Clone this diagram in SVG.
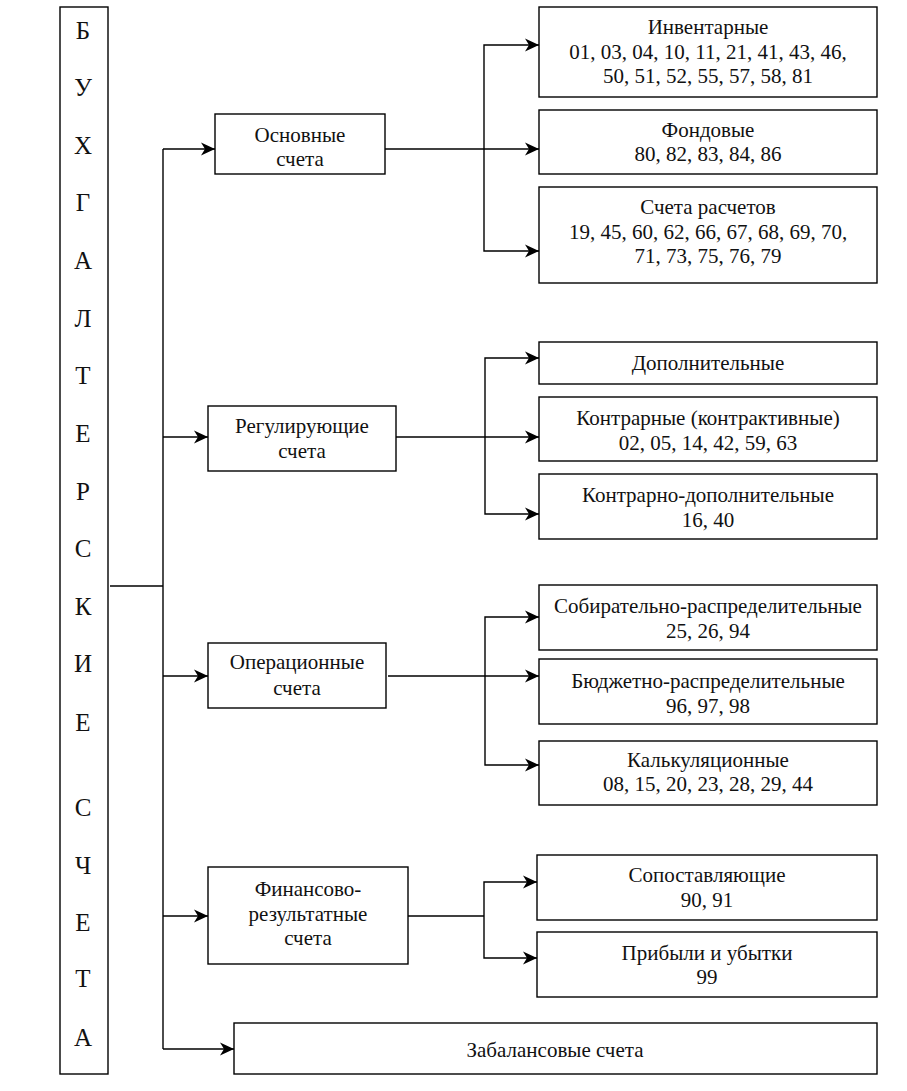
<svg xmlns="http://www.w3.org/2000/svg" width="907" height="1091" viewBox="0 0 907 1091">
<style>
.bx{fill:#fff;stroke:#000;stroke-width:1.4}
.t{font-family:"Liberation Serif","Times New Roman",serif;font-size:21px;text-anchor:middle;fill:#111}
.v{font-family:"Liberation Serif","Times New Roman",serif;font-size:25px;text-anchor:middle;fill:#111}
.c{fill:none;stroke:#000;stroke-width:1.4}
.a{fill:none;stroke:#000;stroke-width:1.4;marker-end:url(#ah)}
</style>
<defs>
<marker id="ah" markerUnits="userSpaceOnUse" markerWidth="15" markerHeight="14" refX="14" refY="7" orient="auto">
<path d="M0,0.5 L14,7 L0,13.5 L4,7 Z" fill="#000"/>
</marker>
</defs>
<rect width="907" height="1091" fill="#fff"/>
<g id="connectors">
<path class="c" d="M110,586 H163"/>
<path class="c" d="M163,149 V1049"/>
<path class="a" d="M163,149 H215"/>
<path class="a" d="M163,437 H208"/>
<path class="a" d="M163,676 H208"/>
<path class="a" d="M163,916 H208"/>
<path class="a" d="M163,1049 H234"/>
<path class="a" d="M384,149 H539"/>
<path class="a" d="M484,149 V45 H539"/>
<path class="a" d="M484,149 V251 H539"/>
<path class="a" d="M396,437 H539"/>
<path class="a" d="M485,437 V358 H539"/>
<path class="a" d="M485,437 V514 H539"/>
<path class="a" d="M388,676 H539"/>
<path class="a" d="M485,676 V617 H539"/>
<path class="a" d="M485,676 V765 H539"/>
<path class="c" d="M408,916 H484"/>
<path class="a" d="M484,916 V882 H537"/>
<path class="a" d="M484,916 V958 H537"/>
</g>
<g id="root">
<rect class="bx" x="60" y="7" width="48" height="1067"/>
<text class="v" x="83" y="39">Б</text>
<text class="v" x="83" y="96">У</text>
<text class="v" x="83" y="154">Х</text>
<text class="v" x="83" y="211">Г</text>
<text class="v" x="83" y="269">А</text>
<text class="v" x="83" y="327">Л</text>
<text class="v" x="83" y="384">Т</text>
<text class="v" x="83" y="442">Е</text>
<text class="v" x="83" y="500">Р</text>
<text class="v" x="83" y="557">С</text>
<text class="v" x="83" y="615">К</text>
<text class="v" x="83" y="672">И</text>
<text class="v" x="83" y="731">Е</text>
<text class="v" x="83" y="816">С</text>
<text class="v" x="83" y="874">Ч</text>
<text class="v" x="83" y="931">Е</text>
<text class="v" x="83" y="987">Т</text>
<text class="v" x="83" y="1046">А</text>
</g>
<g id="osnovnye">
<rect class="bx" x="215" y="114" width="170" height="60"/>
<text class="t" x="300" y="142">Основные</text>
<text class="t" x="300" y="166">счета</text>
</g>
<g id="inventarnye">
<rect class="bx" x="539" y="7" width="338" height="90"/>
<text class="t" x="708" y="34">Инвентарные</text>
<text class="t" x="708" y="59">01, 03, 04, 10, 11, 21, 41, 43, 46,</text>
<text class="t" x="708" y="83">50, 51, 52, 55, 57, 58, 81</text>
</g>
<g id="fondovye">
<rect class="bx" x="539" y="110" width="338" height="64"/>
<text class="t" x="708" y="137">Фондовые</text>
<text class="t" x="708" y="161">80, 82, 83, 84, 86</text>
</g>
<g id="raschetov">
<rect class="bx" x="539" y="187" width="338" height="96"/>
<text class="t" x="708" y="214">Счета расчетов</text>
<text class="t" x="708" y="239">19, 45, 60, 62, 66, 67, 68, 69, 70,</text>
<text class="t" x="708" y="263">71, 73, 75, 76, 79</text>
</g>
<g id="reguliruyushchie">
<rect class="bx" x="208" y="406" width="188" height="65"/>
<text class="t" x="302" y="433">Регулирующие</text>
<text class="t" x="302" y="458">счета</text>
</g>
<g id="dopolnitelnye">
<rect class="bx" x="539" y="342" width="338" height="42"/>
<text class="t" x="708" y="370">Дополнительные</text>
</g>
<g id="kontrarnye">
<rect class="bx" x="539" y="397" width="338" height="64"/>
<text class="t" x="708" y="425">Контрарные (контрактивные)</text>
<text class="t" x="708" y="450">02, 05, 14, 42, 59, 63</text>
</g>
<g id="kontrarno-dop">
<rect class="bx" x="539" y="474" width="338" height="65"/>
<text class="t" x="708" y="502">Контрарно-дополнительные</text>
<text class="t" x="708" y="527">16, 40</text>
</g>
<g id="operatsionnye">
<rect class="bx" x="208" y="643" width="178" height="65"/>
<text class="t" x="297" y="669">Операционные</text>
<text class="t" x="297" y="695">счета</text>
</g>
<g id="sobiratelno">
<rect class="bx" x="539" y="585" width="338" height="65"/>
<text class="t" x="708" y="613">Собирательно-распределительные</text>
<text class="t" x="708" y="638">25, 26, 94</text>
</g>
<g id="byudzhetno">
<rect class="bx" x="539" y="659" width="338" height="65"/>
<text class="t" x="708" y="688">Бюджетно-распределительные</text>
<text class="t" x="708" y="713">96, 97, 98</text>
</g>
<g id="kalkulyatsionnye">
<rect class="bx" x="539" y="741" width="338" height="64"/>
<text class="t" x="708" y="767">Калькуляционные</text>
<text class="t" x="708" y="791">08, 15, 20, 23, 28, 29, 44</text>
</g>
<g id="finansovo">
<rect class="bx" x="208" y="867" width="200" height="97"/>
<text class="t" x="308" y="896">Финансово-</text>
<text class="t" x="308" y="921">результатные</text>
<text class="t" x="308" y="945">счета</text>
</g>
<g id="sopostavlyayushchie">
<rect class="bx" x="537" y="855" width="340" height="65"/>
<text class="t" x="707" y="882">Сопоставляющие</text>
<text class="t" x="707" y="907">90, 91</text>
</g>
<g id="pribyli">
<rect class="bx" x="537" y="932" width="340" height="65"/>
<text class="t" x="707" y="960">Прибыли и убытки</text>
<text class="t" x="707" y="984">99</text>
</g>
<g id="zabalansovye">
<rect class="bx" x="234" y="1023" width="643" height="51"/>
<text class="t" x="555" y="1057">Забалансовые счета</text>
</g>
</svg>
